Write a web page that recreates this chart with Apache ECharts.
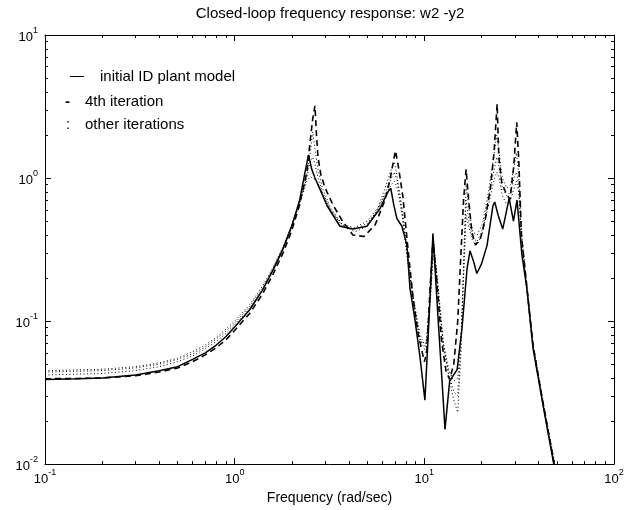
<!DOCTYPE html>
<html>
<head>
<meta charset="utf-8">
<script src="https://cdn.jsdelivr.net/npm/echarts@6/dist/echarts.min.js"></script>
<style>
html,body{margin:0;padding:0;background:#fff;}
#chart{width:629px;height:510px;}
</style>
</head>
<body>
<div id="chart"></div>
<script>
// ---- text ----
const titleText = 'Closed-loop frequency response: w2 -y2';
const xAxisName = 'Frequency (rad/sec)';
const legendNames = ['initial ID plant model', '4th iteration', 'other iterations'];
const legendMarks = ['\u2014', '-', ':'];

// ---- axis ticks ----
const xMajor = [0.1, 1, 10, 100];
const xMinor = [0.2,0.3,0.4,0.5,0.6,0.7,0.8,0.9, 2,3,4,5,6,7,8,9, 20,30,40,50,60,70,80,90];
const yMajor = [0.01, 0.1, 1, 10];
const yMinor = [0.02,0.03,0.04,0.05,0.06,0.07,0.08,0.09, 0.2,0.3,0.4,0.5,0.6,0.7,0.8,0.9, 2,3,4,5,6,7,8,9];

// ---- initial ID plant model (solid) ----
const solidFreq = [0.1,0.15,0.2,0.3,0.4,0.5,0.6,0.7,0.8,0.9,
  1.0,1.2,1.4,1.6,1.8,2.0,2.2,2.35,2.45,2.55,
  2.65,2.8,3.07,3.59,4.2,4.98,5.83,6.43,6.65,6.9,
  7.17,7.62,8.1,8.4,8.9,9.5,10.07,10.6,11.1,11.8,
  12.4,12.85,13.6,14.9,15.8,16.8,17.4,18.2,18.9,20.0,
  21.4,23.0,23.5,24.5,25.9,28.0,29.5,30.8,32.7,34.7,
  37.4,42.2,48.5];
const solidMag = [0.039,0.0395,0.040,0.042,0.045,0.048,0.054,0.060,0.068,0.078,
  0.091,0.12,0.164,0.23,0.32,0.46,0.70,1.1,1.45,1.15,
  1.0,0.85,0.64,0.46,0.44,0.46,0.61,0.80,0.85,0.65,
  0.52,0.46,0.337,0.17,0.105,0.055,0.028,0.107,0.41,0.107,
  0.038,0.0175,0.038,0.046,0.089,0.233,0.31,0.26,0.215,0.25,
  0.337,0.64,0.68,0.55,0.44,0.72,0.5,0.7,0.29,0.17,
  0.065,0.026,0.0095];

// ---- 4th iteration (dashed) ----
const dashFreq = [0.1,0.15,0.2,0.3,0.4,0.5,0.6,0.7,0.8,0.9,
  1.0,1.2,1.4,1.6,1.8,2.0,2.2,2.4,2.5,2.58,
  2.65,2.7,2.75,2.85,3.0,3.3,3.7,4.2,4.8,5.5,
  6.2,6.6,6.9,7.05,7.3,7.7,8.2,8.7,9.3,10.0,
  10.3,10.7,11.1,11.6,12.3,13.0,13.6,14.3,15.0,15.6,
  16.1,16.6,17.1,17.8,18.6,19.8,21.0,22.3,23.3,24.2,
  24.7,25.6,27.0,28.3,29.6,30.7,31.5,32.5,34.7,37.4,
  42.2,48.5];
const dashMag = [0.0395,0.0397,0.040,0.0415,0.044,0.047,0.052,0.058,0.065,0.074,
  0.086,0.113,0.154,0.215,0.30,0.43,0.65,1.1,1.8,2.6,
  3.2,2.0,1.4,1.05,0.85,0.65,0.5,0.40,0.39,0.47,
  0.7,0.98,1.35,1.55,1.2,0.75,0.32,0.15,0.08,0.052,
  0.06,0.16,0.37,0.2,0.075,0.045,0.039,0.05,0.1,0.3,
  0.7,1.15,0.72,0.42,0.34,0.38,0.52,0.85,1.5,3.3,
  1.4,0.93,0.78,0.71,1.2,2.45,1.3,0.4,0.175,0.068,
  0.027,0.0098];

// ---- other iterations (dotted) ----
const otherFreq = [0.1,0.2,0.3,0.4,0.5,0.6,0.7,0.8,0.9,1.0,
  1.2,1.4,1.6,1.8,2.0,2.2,2.4,2.5,2.58,2.65,
  2.75,2.9,3.2,3.7,4.3,5.0,5.7,6.3,6.7,6.95,
  7.2,7.6,8.2,8.8,9.5,10.2,10.8,11.2,11.8,12.6,
  13.5,14.3,15.0,15.6,16.1,16.6,17.2,18.0,19.0,20.3,
  21.8,23.2,24.1,24.8,25.8,27.2,28.5,29.7,30.6,31.4,
  32.5,34.7,37.4,42.2,48.5];
const otherMagA = [0.045,0.046,0.048,0.051,0.055,0.061,0.068,0.077,0.088,0.10,
  0.13,0.175,0.24,0.33,0.47,0.68,1.05,1.5,2.1,1.6,
  1.15,0.85,0.62,0.47,0.42,0.46,0.62,0.9,1.15,1.3,
  1.0,0.65,0.28,0.14,0.08,0.065,0.17,0.35,0.18,0.07,
  0.04,0.028,0.023,0.06,0.25,0.9,0.6,0.42,0.4,0.48,
  0.8,1.4,2.0,1.5,1.0,0.85,0.9,1.2,1.5,1.1,
  0.42,0.18,0.07,0.028,0.0105];
const otherMagB = [0.044,0.045,0.047,0.050,0.054,0.059,0.066,0.075,0.085,0.097,
  0.126,0.17,0.235,0.33,0.47,0.68,1.0,1.3,1.4,1.25,
  1.0,0.8,0.6,0.46,0.44,0.48,0.6,0.82,1.0,1.1,
  0.95,0.6,0.26,0.13,0.075,0.06,0.16,0.36,0.17,0.065,
  0.042,0.032,0.03,0.07,0.22,0.7,0.5,0.38,0.36,0.44,
  0.72,1.1,1.4,1.2,0.85,0.75,0.8,1.0,1.1,0.9,
  0.4,0.17,0.068,0.027,0.0102];
const otherMagC = [0.042,0.043,0.045,0.048,0.052,0.057,0.064,0.072,0.082,0.094,
  0.122,0.165,0.23,0.32,0.46,0.66,0.95,1.02,1.0,0.98,
  0.92,0.78,0.6,0.47,0.45,0.5,0.62,0.78,0.9,0.95,
  0.85,0.58,0.25,0.125,0.072,0.07,0.15,0.33,0.16,0.07,
  0.045,0.038,0.04,0.08,0.2,0.55,0.45,0.36,0.34,0.42,
  0.65,0.95,1.1,1.0,0.75,0.65,0.7,0.85,0.95,0.8,
  0.38,0.165,0.066,0.026,0.0101];

const FONT = '"Liberation Sans", Arial, Helvetica, sans-serif';
const pairs = (f, m) => f.map((v, i) => [v, m[i]]);

function powLabel(v) {
  const e = Math.round(Math.log10(v));
  return '{b|10}{s|' + e + '}';
}
const labelRich = {
  b: { fontSize: 13, fontFamily: FONT, color: '#000', verticalAlign: 'bottom', lineHeight: 18 },
  s: { fontSize: 9, fontFamily: FONT, color: '#000', verticalAlign: 'top', lineHeight: 18 }
};

function xAx(position, values, len, withLabel, withLine) {
  const a = {
    type: 'log', logBase: 10, min: 0.1, max: 100, position: position,
    axisLine: { show: withLine, onZero: false, lineStyle: { color: '#000', width: 1 } },
    axisTick: { show: true, inside: true, length: len, customValues: values, lineStyle: { color: '#000', width: 1 } },
    axisLabel: withLabel ? { show: true, customValues: values, formatter: powLabel, rich: labelRich, margin: 4 } : { show: false },
    splitLine: { show: false }, minorTick: { show: false }
  };
  if (withLabel) {
    a.name = xAxisName; a.nameLocation = 'middle'; a.nameGap = 22;
    a.nameTextStyle = { fontSize: 14, fontFamily: FONT, color: '#000', verticalAlign: 'top' };
  }
  return a;
}
function yAx(position, values, len, withLabel, withLine) {
  return {
    type: 'log', logBase: 10, min: 0.01, max: 10, position: position,
    axisLine: { show: withLine, onZero: false, lineStyle: { color: '#000', width: 1 } },
    axisTick: { show: true, inside: true, length: len, customValues: values, lineStyle: { color: '#000', width: 1 } },
    axisLabel: withLabel ? { show: true, customValues: values, formatter: powLabel, rich: labelRich, margin: 7 } : { show: false },
    splitLine: { show: false }, minorTick: { show: false }
  };
}

const chart = echarts.init(document.getElementById('chart'), null, { renderer: 'canvas' });

const lineBase = { type: 'line', xAxisIndex: 0, yAxisIndex: 0, showSymbol: false, symbol: 'none', smooth: false, animation: false, clip: true };

chart.setOption({
  backgroundColor: '#fff',
  animation: false,
  title: {
    text: titleText, left: 330, top: 6, textAlign: 'center', padding: 0,
    textStyle: { fontSize: 15, fontWeight: 'normal', fontFamily: FONT, color: '#000' }
  },
  grid: { left: 45, right: 15, top: 35, bottom: 43, containLabel: false },
  xAxis: [
    xAx('bottom', xMajor, 6, true, true),
    xAx('bottom', xMinor, 3, false, false),
    xAx('top', xMajor, 6, false, true),
    xAx('top', xMinor, 3, false, false)
  ],
  yAxis: [
    yAx('left', yMajor, 6, true, true),
    yAx('left', yMinor, 3, false, false),
    yAx('right', yMajor, 6, false, true),
    yAx('right', yMinor, 3, false, false)
  ],
  series: [
    Object.assign({}, lineBase, { name: legendNames[2], data: pairs(otherFreq, otherMagA), z: 2,
      lineStyle: { color: '#000', width: 1, type: [1, 2.5] } }),
    Object.assign({}, lineBase, { name: legendNames[2] + ' B', data: pairs(otherFreq, otherMagB), z: 2,
      lineStyle: { color: '#000', width: 1, type: [1, 2.5] } }),
    Object.assign({}, lineBase, { name: legendNames[2] + ' C', data: pairs(otherFreq, otherMagC), z: 2,
      lineStyle: { color: '#000', width: 1, type: [1, 2.5] } }),
    Object.assign({}, lineBase, { name: legendNames[1], data: pairs(dashFreq, dashMag), z: 3,
      lineStyle: { color: '#000', width: 1.6, type: [6, 4] } }),
    Object.assign({}, lineBase, { name: legendNames[0], data: pairs(solidFreq, solidMag), z: 4,
      lineStyle: { color: '#000', width: 1.5, type: 'solid' } })
  ],
  graphic: [
    { type: 'text', left: 70, top: 69, style: { text: legendMarks[0], font: '14px ' + FONT, fill: '#000' } },
    { type: 'text', left: 100, top: 69, style: { text: legendNames[0], font: '15px ' + FONT, fill: '#000' } },
    { type: 'text', left: 65, top: 94, style: { text: legendMarks[1], font: 'bold 15px ' + FONT, fill: '#000' } },
    { type: 'text', left: 85, top: 94, style: { text: legendNames[1], font: '15px ' + FONT, fill: '#000' } },
    { type: 'text', left: 66, top: 117, style: { text: legendMarks[2], font: '15px ' + FONT, fill: '#000' } },
    { type: 'text', left: 85, top: 117, style: { text: legendNames[2], font: '15px ' + FONT, fill: '#000' } }
  ]
});
</script>
</body>
</html>
